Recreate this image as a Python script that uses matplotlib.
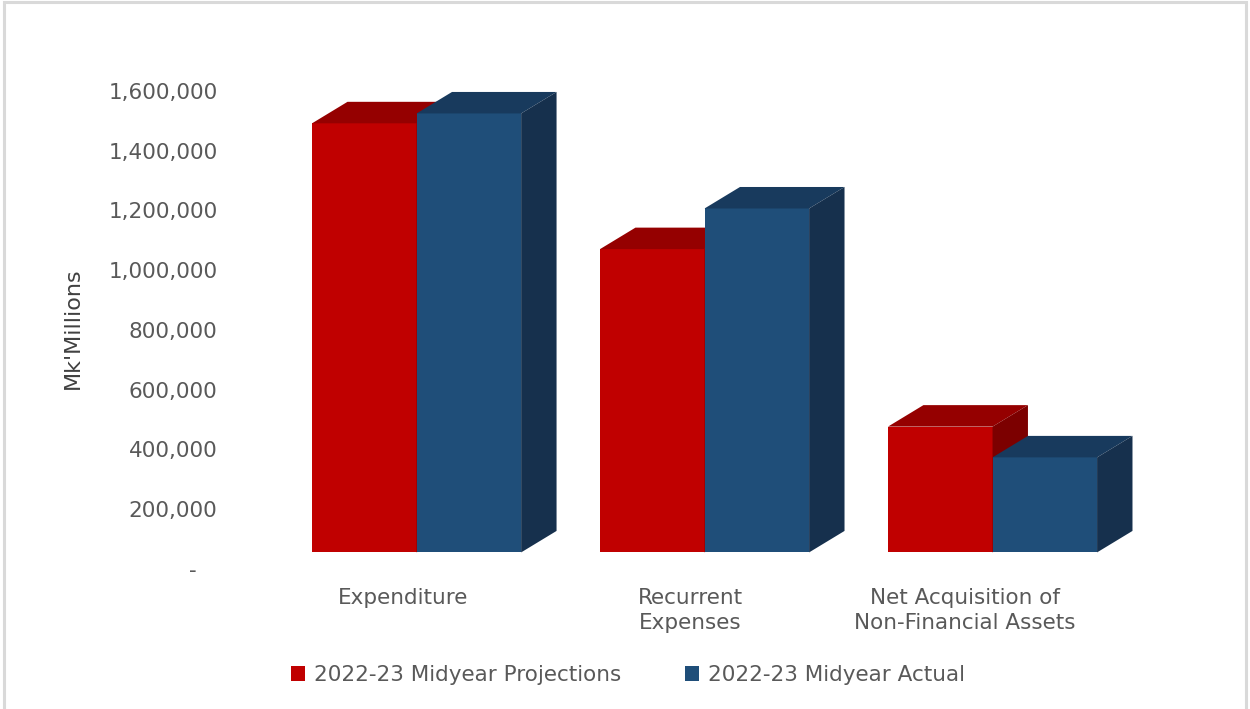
import matplotlib
matplotlib.use("Agg")
import matplotlib.pyplot as plt
from matplotlib.patches import Polygon, Rectangle, Patch

# data (Mk' millions)
categories = ['Expenditure', 'Recurrent\nExpenses', 'Net Acquisition of\nNon-Financial Assets']
series_names = ['2022-23 Midyear Projections', '2022-23 Midyear Actual']
projections = [1436000, 1015000, 421000]
actual = [1469000, 1151000, 318000]
yticks = [0, 200000, 400000, 600000, 800000, 1000000, 1200000, 1400000, 1600000]

# colours: front, top, side
red_cols = ['#C00000', '#950000', '#7C0000']
blue_cols = ['#1F4E79', '#183A5D', '#16304D']

W, H = 1250, 709
fig = plt.figure(figsize=(W / 100, H / 100), dpi=100)
fig.patch.set_facecolor('white')

# axes placed so that 0 sits at y=569px and 1.7M at y=61px
L, R, B, T = 230, 1180, 569, 61
ax = fig.add_axes([L / W, (H - B) / H, (R - L) / W, (B - T) / H])
ax.set_xlim(-0.648, 2.651)
ax.set_ylim(0, 1700000)

bw = 0.363          # bar width (x units)
dx = 0.123          # 3d depth offset in x
dy = 71900          # 3d depth offset in y (data units)
base = 55500        # bars sit a little back from the floor front edge


def bar3d(x0, v, cols):
    x1 = x0 + bw
    top = base + v
    ax.bar(x0, v, bw, bottom=base, align='edge', color=cols[0], linewidth=0, zorder=2)
    ax.add_patch(Polygon([(x0, top), (x1, top), (x1 + dx, top + dy), (x0 + dx, top + dy)],
                         closed=True, facecolor=cols[1], edgecolor='none', zorder=2))
    ax.add_patch(Polygon([(x1, base), (x1 + dx, base + dy), (x1 + dx, top + dy), (x1, top)],
                         closed=True, facecolor=cols[2], edgecolor='none', zorder=2))


for i in range(len(categories)):
    bar3d(i - bw, projections[i], red_cols)
    bar3d(i, actual[i], blue_cols)

for s in ax.spines.values():
    s.set_visible(False)

ax.set_yticks(yticks)
ax.set_yticklabels(['-   ' if v == 0 else f'{v:,.0f}' for v in yticks])
ax.tick_params(axis='y', length=0, pad=9, labelsize=15.5, labelcolor='#595959')

# category labels
label_off = [-0.047, -0.05, -0.095]
ax.set_xticks([])
for i, c in enumerate(categories):
    ax.text(i + label_off[i], -62000, c, ha='center', va='top', fontsize=15.5,
            color='#595959', linespacing=1.32)

fig.text(73 / W, 1 - 328 / H, "Mk'Millions", rotation=90, ha='center', va='center',
         fontsize=16, color='#404040')

handles = [Patch(facecolor=red_cols[0], label=series_names[0]),
           Patch(facecolor=blue_cols[0], label=series_names[1])]
fig.legend(handles=handles, loc='center', bbox_to_anchor=(628 / W, 1 - 675 / H), ncol=2,
           frameon=False, fontsize=15.5, handlelength=0.65, handleheight=0.65,
           handletextpad=0.4, columnspacing=3.0, labelcolor='#595959')

# light chart border
fig.patches.append(Rectangle((3.5 / W, -0.05), 1242.5 / W, (H - 1.5) / H + 0.05,
                             transform=fig.transFigure, fill=False,
                             edgecolor='#d9d9d9', linewidth=2.2))

fig.savefig('out.png', dpi=100, facecolor='white')
